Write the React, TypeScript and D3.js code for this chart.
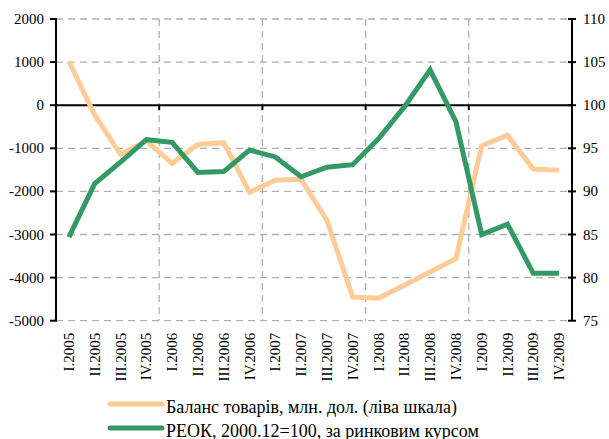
import React from "react";
import * as d3 from "d3";

const categories = [
  "I.2005", "II.2005", "III.2005", "IV.2005",
  "I.2006", "II.2006", "III.2006", "IV.2006",
  "I.2007", "II.2007", "III.2007", "IV.2007",
  "I.2008", "II.2008", "III.2008", "IV.2008",
  "I.2009", "II.2009", "III.2009", "IV.2009",
];
const balance = [
  1020, -230, -1140, -830, -1350, -910, -870, -2020, -1740, -1720,
  -2670, -4450, -4480, -4180, -3870, -3560, -940, -700, -1480, -1510,
];
const reer = [
  84.7, 90.9, 93.4, 96.0, 95.7, 92.2, 92.3, 94.8, 94.0, 91.7,
  92.8, 93.1, 96.1, 99.8, 104.1, 98.1, 85.0, 86.2, 80.5, 80.5,
];
const leftTicks = [2000, 1000, 0, -1000, -2000, -3000, -4000, -5000];
const rightTicks = [110, 105, 100, 95, 90, 85, 80, 75];
const legendLabels = [
  "Баланс товарів, млн. дол. (ліва шкала)",
  "РЕОК, 2000.12=100, за ринковим курсом",
];

const W = 609, H = 439;
const L = 56, R = 572, T = 19, B = 320.7;
const ORANGE = "#FFCB96";
const GREEN = "#339966";
const FF = "Liberation Serif";

export default function App() {
  const x = d3.scalePoint<string>().domain(categories).range([L, R]).padding(0.5);
  const step = x.step();
  const yL = d3.scaleLinear().domain([-5000, 2000]).range([B, T]);
  const yR = d3.scaleLinear().domain([75, 110]).range([B, T]);

  const lineL = d3.line<number>().x((_, i) => x(categories[i])!).y((d) => yL(d));
  const lineR = d3.line<number>().x((_, i) => x(categories[i])!).y((d) => yR(d));

  const yearBounds = [4, 8, 12, 16].map((k) => L + k * step);
  const y0 = yL(0);

  return (
    <svg width={W} height={H} style={{ position: "absolute", left: 0, top: 0, background: "#fff" }} fontFamily={FF} fontSize={15}>
      {leftTicks.filter((t) => t !== 0).map((t) => (
        <line key={"h" + t} x1={L} x2={R} y1={yL(t)} y2={yL(t)} stroke="#b0b0b0" strokeWidth={1.3} strokeDasharray="7,5" />
      ))}
      {yearBounds.map((xb, i) => (
        <line key={"v" + i} x1={xb} x2={xb} y1={T} y2={B} stroke="#b0b0b0" strokeWidth={1.3} strokeDasharray="7,5" />
      ))}
      <line x1={L} x2={R} y1={y0} y2={y0} stroke="#000" strokeWidth={2} />
      {yearBounds.map((xb, i) => (
        <line key={"xt" + i} x1={xb} x2={xb} y1={y0} y2={y0 + 5} stroke="#000" strokeWidth={2} />
      ))}
      <line x1={L} x2={L} y1={T} y2={B} stroke="#000" strokeWidth={2} />
      {leftTicks.map((t) => (
        <g key={"lt" + t}>
          <line x1={L - 6} x2={L + 1} y1={yL(t)} y2={yL(t)} stroke="#000" strokeWidth={2} />
          <text x={L - 12} y={yL(t) + 5} textAnchor="end" fill="#000">{t}</text>
        </g>
      ))}
      <line x1={R} x2={R} y1={T} y2={B} stroke="#000" strokeWidth={2} />
      {rightTicks.map((t) => (
        <g key={"rt" + t}>
          <line x1={R - 4} x2={R + 4} y1={yR(t)} y2={yR(t)} stroke="#000" strokeWidth={2} />
          <text x={R + 11} y={yR(t) + 5} textAnchor="start" fill="#000">{t}</text>
        </g>
      ))}
      {categories.map((c) => (
        <text key={c} transform={`translate(${x(c)! + 5},${B + 12}) rotate(-90)`} textAnchor="end" fill="#000">{c}</text>
      ))}
      <path d={lineL(balance)!} fill="none" stroke={ORANGE} strokeWidth={5} strokeLinejoin="miter" />
      <path d={lineR(reer)!} fill="none" stroke={GREEN} strokeWidth={5} strokeLinejoin="miter" />
      {[ORANGE, GREEN].map((col, i) => (
        <g key={"lg" + i}>
          <line x1={110} x2={162} y1={404 + i * 24} y2={404 + i * 24} stroke={col} strokeWidth={5} strokeLinecap="round" />
          <text x={166} y={413 + i * 24} fontSize={18} fill="#000">{legendLabels[i]}</text>
        </g>
      ))}
    </svg>
  );
}
